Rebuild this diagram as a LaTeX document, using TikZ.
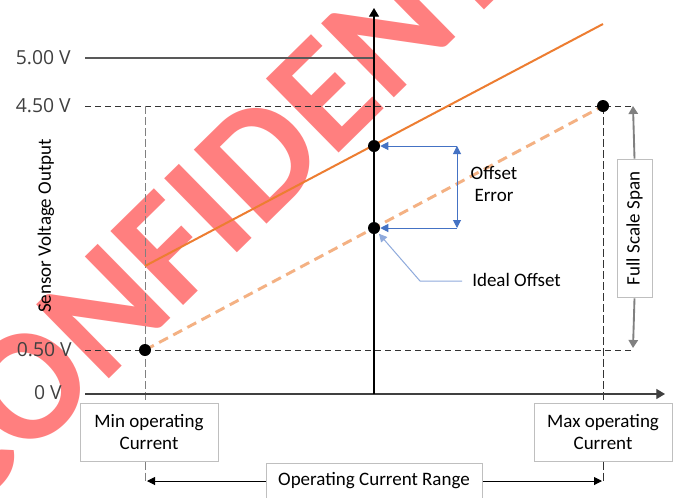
\documentclass[tikz,border=0pt]{standalone}
\usepackage{fontspec}
\setmainfont{Carlito}
\newfontfamily\tickfont{Open Sans}
\usetikzlibrary{arrows.meta}
\definecolor{orng}{HTML}{ED7D31}
\definecolor{lorng}{HTML}{F4B183}
\definecolor{oblue}{HTML}{4472C4}
\definecolor{lblue}{HTML}{8FAADC}
\definecolor{boxgray}{HTML}{BFBFBF}
\definecolor{ticktext}{HTML}{404040}
\definecolor{spangray}{HTML}{808080}
\begin{document}
\begin{tikzpicture}[x=0.75pt,y=-0.75pt,
  dot/.style={circle, fill=black, inner sep=0pt, minimum size=9pt},
  lab/.style={font=\fontsize{14.25}{17}\selectfont, align=center, inner sep=0pt},
  ticklab/.style={font=\tickfont\fontsize{14.5}{17}\selectfont, text=ticktext, inner sep=0pt},
  callbox/.style={draw=boxgray, fill=white, line width=0.75pt, font=\fontsize{14.25}{17}\selectfont, align=center, inner sep=0pt},
  dashline/.style={dash pattern=on 4.5pt off 3pt, line width=0.75pt},
  vdash/.style={dash pattern=on 6pt off 2.25pt, line width=0.75pt},
  axis/.style={line width=0.9pt, -{Triangle[length=6.5pt,width=7.5pt]}},
  bluearrow/.style={draw=oblue, line width=0.75pt},
  wm/.style={font=\bfseries\fontsize{120}{120}\selectfont, text=red, text opacity=0.5, inner sep=0pt}
]
\useasboundingbox (0,0) rectangle (678,497);
\clip (0,0) rectangle (678,497);
\fill[white] (0,0) rectangle (678,497);

% watermark
\node[wm, rotate=44.5] (wmark) at (280,138) {CONFIDENTIAL};

% coordinates
\coordinate (org) at (374,394);
\coordinate (ytop) at (374,8);
\coordinate (xl) at (85,394);
\coordinate (xr) at (665,394);
\coordinate (l5a) at (85,58);
\coordinate (l45a) at (85,106);
\coordinate (l45b) at (634,106);
\coordinate (l05a) at (85,350);
\coordinate (l05b) at (634,350);
\coordinate (vl0) at (145,106);
\coordinate (vl1) at (145,481);
\coordinate (vr0) at (603,106);
\coordinate (vr1) at (603,482);
\coordinate (oa) at (145,266);
\coordinate (ob) at (603,24);

% tick labels
\node[ticklab, anchor=east] (t500) at (71,58) {5.00 V};
\node[ticklab, anchor=east] (t450) at (71,106) {4.50 V};
\node[ticklab, anchor=east] (t050) at (72,350) {0.50 V};
\node[ticklab, anchor=east] (t0) at (62,393) {0 V};
\node[lab, rotate=90] (ylab) at (46,226) {Sensor Voltage Output};

% boxes
\node[callbox, minimum width=103.5pt, minimum height=43.5pt] (minb) at (149,432) {Min operating\\Current};
\node[callbox, minimum width=103.5pt, minimum height=43.5pt] (maxb) at (603,432) {Max operating\\Current};
\node[callbox, minimum width=162pt, minimum height=27pt] (ocr) at (374,481) {Operating Current Range};
\node[callbox, rotate=90, minimum width=104pt, minimum height=26.25pt] (fss) at (634.5,228.5) {Full Scale Span};

% guide lines
\draw[draw=black!65, line width=0.8pt] (l5a) -- (org |- l5a);
\draw[dashline, draw=black!80] (l45a) -- (l45b);
\draw[dashline, draw=black!80] (l05a) -- (l05b);
\draw[vdash, draw=black!50] (vl0) -- (minb.north -| vl0);
\draw[vdash, draw=black!50] (minb.south -| vl0) -- (vl1);
\draw[vdash, draw=black!80] (vr0) -- (maxb.north -| vr0);
\draw[vdash, draw=black!80] (maxb.south -| vr0) -- (vr1);

% axes
\draw[axis, draw=black!75] (xl) -- (xr);
\draw[axis, draw=black] (org) -- (ytop);

% transfer lines
\draw[draw=lorng, line width=2.2pt, dash pattern=on 7.5pt off 4.5pt] (145,350) -- (603,106);
\draw[draw=orng, line width=1.5pt] (oa) -- (ob);

% dots
\node[dot] (dmin) at (145,350) {};
\node[dot] (dmax) at (603,106) {};
\node[dot] (dact) at (374,146) {};
\node[dot] (dideal) at (374,228) {};

% offset error
\coordinate (oe1) at (457,146);
\coordinate (oe2) at (457,228);
\draw[bluearrow, -{Triangle[length=6pt,width=6pt]}] (oe1) -- (dact.east);
\draw[bluearrow, -{Triangle[length=6pt,width=6pt]}] (oe2) -- (dideal.east);
\draw[bluearrow, {Triangle[length=6pt,width=6pt]}-{Triangle[length=6pt,width=6pt]}] (oe1) -- (oe2);
\node[lab] (oelab) at (494,184) {Offset\\Error};

% ideal offset
\node[lab, anchor=west] (iolab) at (472,280) {Ideal Offset};
\coordinate (io1) at (462,281);
\coordinate (io2) at (420,281);
\draw[draw=lblue, line width=0.75pt, -{Triangle[length=6pt,width=6pt]}, shorten >=1pt] (io1) -- (io2) -- (dideal);

% full scale span arrows
\coordinate (fs1) at (633,106);
\coordinate (fs2) at (633,348);
\draw[draw=spangray, line width=1.4pt, -{Triangle[length=6pt,width=7pt]}] (fss.east) -- (fs1);
\draw[draw=spangray, line width=1.4pt, -{Triangle[length=6pt,width=7pt]}] (fss.west) -- (fs2);

% operating current range arrows
\coordinate (ocl) at (147,481);
\coordinate (ocrr) at (602,481);
\draw[line width=0.75pt, -{Triangle[length=6pt,width=6pt]}] (ocr.west) -- (ocl);
\draw[line width=0.75pt, -{Triangle[length=6pt,width=6pt]}] (ocr.east) -- (ocrr);
\end{tikzpicture}
\end{document}
